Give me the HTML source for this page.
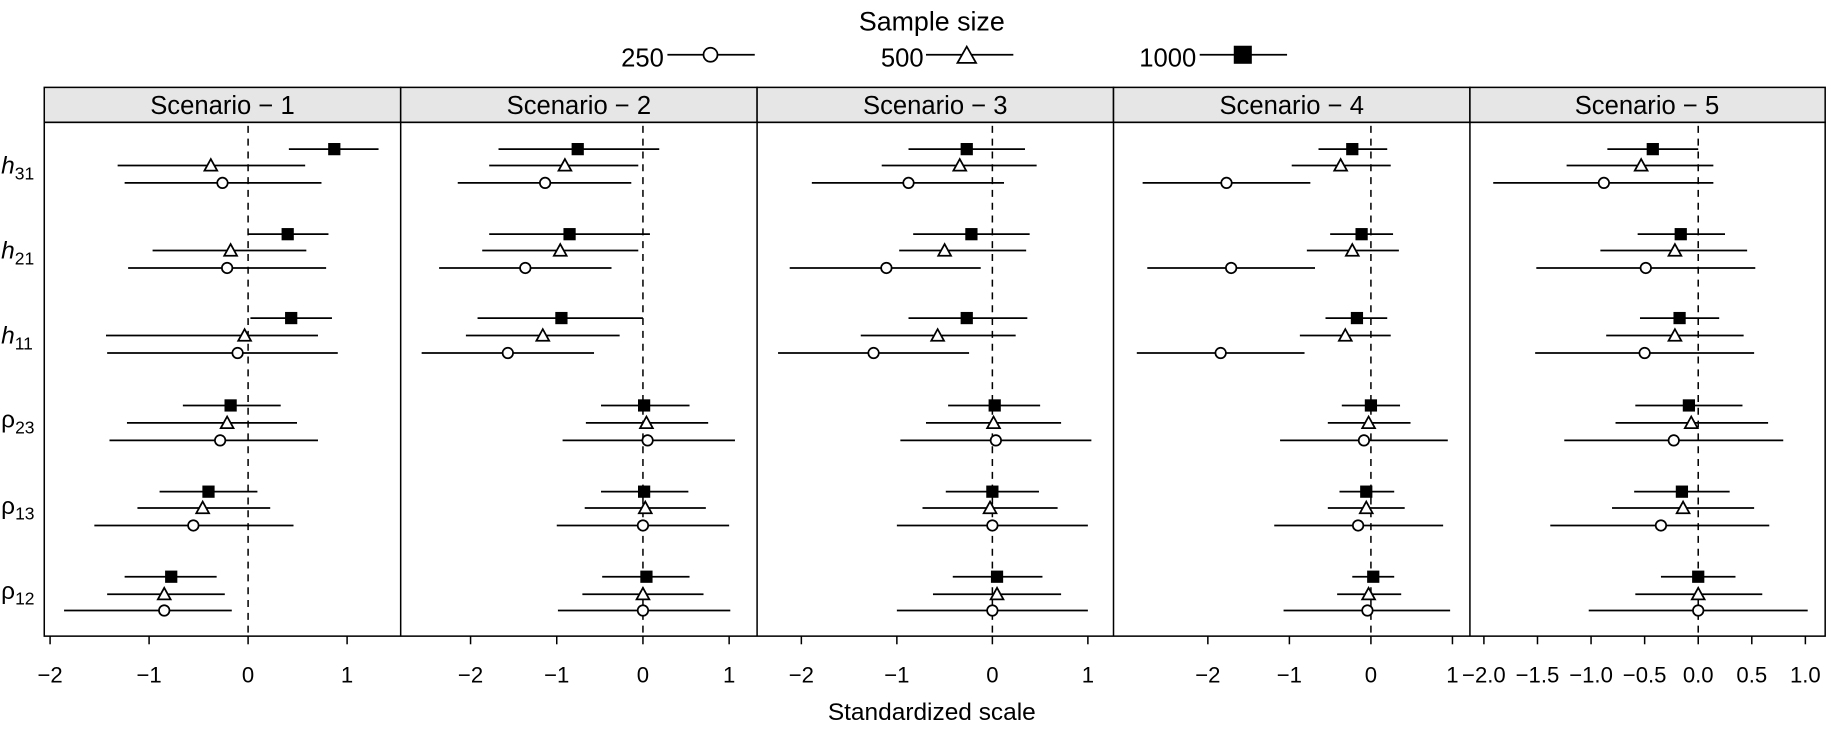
<!DOCTYPE html>
<html><head><meta charset="utf-8"><style>
html,body{margin:0;padding:0;background:#fff;}
svg{display:block;font-family:"Liberation Sans",Arial,sans-serif;}
</style></head><body>
<svg id="s" width="1831" height="734" viewBox="0 0 1572 630" preserveAspectRatio="none" xmlns="http://www.w3.org/2000/svg">
<rect x="0" y="0" width="1572" height="630" fill="#fff"/>
<text x="800" y="26" font-size="23" text-anchor="middle">Sample size</text>
<text x="570" y="57" font-size="22" text-anchor="end">250</text>
<text x="793" y="57" font-size="22" text-anchor="end">500</text>
<text x="1027" y="57" font-size="22" text-anchor="end">1000</text>
<g fill="#e6e6e6" stroke="#000" stroke-width="1.3">
<rect x="38" y="75" width="306" height="30"/><rect x="344" y="75" width="306" height="30"/><rect x="650" y="75" width="306" height="30"/><rect x="956" y="75" width="306" height="30"/><rect x="1262" y="75" width="305" height="30"/>
</g>
<g font-size="22" text-anchor="middle">
<text x="191" y="98">Scenario − 1</text><text x="497" y="98">Scenario − 2</text><text x="803" y="98">Scenario − 3</text><text x="1109" y="98">Scenario − 4</text><text x="1414" y="98">Scenario − 5</text>
</g>
<g fill="none" stroke="#000" stroke-width="1.3">
<rect x="38" y="105" width="1529" height="441"/>
<line x1="344" y1="105" x2="344" y2="546"/><line x1="650" y1="105" x2="650" y2="546"/><line x1="956" y1="105" x2="956" y2="546"/><line x1="1262" y1="105" x2="1262" y2="546"/>
</g>
<g font-size="21">
<text x="1" y="149"><tspan font-style="italic">h</tspan><tspan font-size="15" dy="5">31</tspan></text>
<text x="1" y="222"><tspan font-style="italic">h</tspan><tspan font-size="15" dy="5">21</tspan></text>
<text x="1" y="295"><tspan font-style="italic">h</tspan><tspan font-size="15" dy="5">11</tspan></text>
<text x="1" y="367">ρ<tspan font-size="15" dy="5">23</tspan></text>
<text x="1" y="441">ρ<tspan font-size="15" dy="5">13</tspan></text>
<text x="1" y="514">ρ<tspan font-size="15" dy="5">12</tspan></text>
</g>
<g font-size="19" text-anchor="middle">
<text x="43" y="586">−2</text><text x="128" y="586">−1</text><text x="213" y="586">0</text><text x="298" y="586">1</text>
<text x="404" y="586">−2</text><text x="478" y="586">−1</text><text x="552" y="586">0</text><text x="626" y="586">1</text>
<text x="688" y="586">−2</text><text x="770" y="586">−1</text><text x="852" y="586">0</text><text x="934" y="586">1</text>
<text x="1037" y="586">−2</text><text x="1107" y="586">−1</text><text x="1177" y="586">0</text><text x="1247" y="586">1</text>
<text x="1274" y="586">−2.0</text><text x="1320" y="586">−1.5</text><text x="1366" y="586">−1.0</text><text x="1412" y="586">−0.5</text><text x="1458" y="586">0.0</text><text x="1504" y="586">0.5</text><text x="1550" y="586">1.0</text>
</g>
<text x="800" y="618" font-size="21" text-anchor="middle">Standardized scale</text>
<g id="g" stroke="#000" stroke-width="1.5"></g>
</svg>
<script>
var NS="http://www.w3.org/2000/svg",g=document.getElementById("g");
function el(t,a){var e=document.createElementNS(NS,t);for(var k in a)e.setAttribute(k,a[k]);g.appendChild(e);return e;}
function ln(x1,y1,x2,y2,extra){var a={x1:x1,y1:y1,x2:x2,y2:y2};if(extra)for(var k in extra)a[k]=extra[k];return el("line",a);}
function mk(type,x,y){
 if(type==0)el("rect",{x:x-4.5,y:y-4.5,width:9,height:9,fill:"#000"});
 else if(type==1)el("polygon",{points:(x-5.5)+","+(y+4.5)+" "+(x+5.5)+","+(y+4.5)+" "+x+","+(y-5.5),fill:"#fff"});
 else el("circle",{cx:x,cy:y,r:4.5,fill:"#fff"});
}
var zeros=[213,552,852,1177,1458];
var ticks=[[43,128,213,298],[404,478,552,626],[688,770,852,934],[1037,1107,1177,1247],[1274,1320,1366,1412,1458,1504,1550]];
var rowY=[[128,142,157],[201,215,230],[273,288,303],[348,363,378],[422,436,451],[495,510,524]];
var D=[
[[[248,287,325],[101,181,262],[107,191,276]],
 [[213,247,282],[131,198,263],[110,195,280]],
 [[215,250,285],[91,210,273],[92,204,290]],
 [[157,198,241],[109,195,255],[94,189,273]],
 [[137,179,221],[118,174,232],[81,166,252]],
 [[107,147,186],[92,141,193],[55,141,199]]],
[[[428,496,566],[420,485,548],[393,468,542]],
 [[420,489,558],[414,481,548],[377,451,525]],
 [[410,482,552],[400,466,532],[362,436,510]],
 [[516,553,592],[503,555,608],[483,556,631]],
 [[516,553,591],[502,554,606],[478,552,626]],
 [[517,555,592],[500,552,604],[479,552,627]]],
[[[780,830,880],[757,824,890],[697,780,862]],
 [[784,834,884],[772,811,881],[678,761,842]],
 [[780,830,882],[739,805,872],[668,750,832]],
 [[814,854,893],[795,853,911],[773,855,937]],
 [[812,852,892],[792,850,908],[770,852,934]],
 [[818,856,895],[801,856,911],[770,852,934]]],
[[[1132,1161,1191],[1109,1151,1194],[981,1053,1125]],
 [[1142,1169,1196],[1122,1161,1201],[985,1057,1129]],
 [[1138,1165,1191],[1116,1155,1194],[976,1048,1120]],
 [[1152,1177,1202],[1140,1175,1211],[1099,1171,1243]],
 [[1150,1173,1197],[1140,1173,1206],[1094,1166,1239]],
 [[1161,1179,1197],[1148,1175,1203],[1102,1174,1245]]],
[[[1380,1419,1458],[1345,1409,1471],[1282,1377,1471]],
 [[1406,1443,1481],[1374,1438,1500],[1319,1413,1507]],
 [[1408,1442,1476],[1379,1438,1497],[1318,1412,1506]],
 [[1404,1450,1496],[1387,1452,1518],[1343,1437,1531]],
 [[1403,1444,1485],[1384,1445,1506],[1331,1426,1519]],
 [[1426,1458,1490],[1404,1458,1513],[1364,1458,1552]]]
];
for(var p=0;p<5;p++){
 ln(zeros[p],108,zeros[p],546,{"stroke-dasharray":"6,5","stroke-width":1.3});
 ticks[p].forEach(function(t){ln(t,546,t,553,{"stroke-width":1.3});});
 for(var r=0;r<6;r++)for(var s=0;s<3;s++){var d=D[p][r][s],y=rowY[r][s];ln(d[0],y,d[2],y);mk(s,d[1],y);}
}
ln(573,47,648,47);el("circle",{cx:610,cy:47,r:6,fill:"#fff"});
ln(795,47,870,47);el("polygon",{points:"822,54 838,54 830,40",fill:"#fff"});
ln(1030,47,1105,47);el("rect",{x:1060,y:40,width:14,height:14,fill:"#000"});
</script>
</body></html>
